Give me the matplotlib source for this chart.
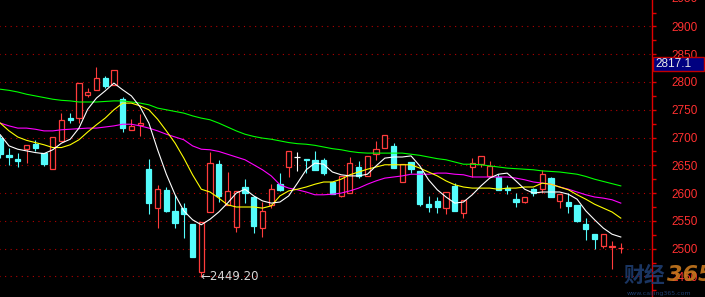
import matplotlib
matplotlib.use("Agg")
import matplotlib.pyplot as plt
from matplotlib.patches import Rectangle
import numpy as np

# daily candles
opens = [2699, 2669, 2661, 2679, 2688, 2672, 2643, 2694, 2735, 2735,
         2777, 2786, 2807, 2795, 2769, 2714, 2723, 2643, 2573, 2606,
         2568, 2573, 2544, 2458, 2566, 2652, 2579, 2539, 2611, 2593,
         2537, 2579, 2616, 2647, 2665, 2661, 2660, 2660, 2620, 2595,
         2600, 2647, 2631, 2670, 2681, 2685, 2620, 2656, 2640, 2580,
         2586, 2573, 2613, 2564, 2647, 2652, 2631, 2629, 2609, 2589,
         2584, 2607, 2607, 2627, 2586, 2584, 2579, 2544, 2526, 2505,
         2503, 2501]
highs = [2705, 2681, 2672, 2687, 2696, 2672, 2701, 2744, 2744, 2798,
         2789, 2827, 2811, 2822, 2773, 2733, 2742, 2661, 2615, 2611,
         2597, 2582, 2544, 2548, 2674, 2660, 2638, 2604, 2625, 2595,
         2584, 2616, 2636, 2676, 2674, 2661, 2676, 2663, 2620, 2631,
         2665, 2658, 2667, 2694, 2705, 2690, 2652, 2656, 2640, 2595,
         2593, 2602, 2618, 2588, 2663, 2667, 2658, 2634, 2615, 2600,
         2593, 2609, 2642, 2629, 2598, 2600, 2579, 2555, 2526, 2526,
         2513, 2511]
lows = [2663, 2651, 2647, 2654, 2676, 2649, 2643, 2694, 2726, 2726,
        2773, 2786, 2789, 2795, 2710, 2714, 2703, 2562, 2537, 2566,
        2537, 2519, 2485, 2449.2, 2566, 2584, 2579, 2530, 2582, 2528,
        2521, 2573, 2604, 2629, 2640, 2636, 2642, 2633, 2598, 2593,
        2600, 2627, 2631, 2660, 2681, 2645, 2620, 2636, 2577, 2566,
        2564, 2562, 2568, 2555, 2629, 2647, 2631, 2606, 2598, 2575,
        2582, 2595, 2600, 2593, 2573, 2564, 2548, 2516, 2499, 2501,
        2464, 2493]
closes = [2670, 2665, 2658, 2687, 2681, 2652, 2701, 2732, 2732, 2798,
          2782, 2807, 2793, 2822, 2717, 2721, 2726, 2582, 2607, 2568,
          2546, 2562, 2485, 2548, 2654, 2595, 2604, 2604, 2600, 2541,
          2568, 2607, 2606, 2676, 2665, 2660, 2642, 2636, 2598, 2631,
          2654, 2631, 2667, 2679, 2705, 2645, 2652, 2643, 2580, 2575,
          2575, 2602, 2568, 2588, 2654, 2667, 2649, 2606, 2606, 2584,
          2593, 2600, 2634, 2593, 2598, 2577, 2550, 2535, 2517, 2526,
          2504, 2502]

# moving averages as drawn
ma5 = [2705, 2685, 2679, 2676, 2673, 2671, 2678, 2690, 2697, 2717,
       2751, 2771, 2784, 2798, 2786, 2775, 2755, 2726, 2678, 2634,
       2597, 2568, 2552, 2543, 2553, 2566, 2582, 2600, 2607, 2595,
       2586, 2582, 2584, 2595, 2618, 2642, 2654, 2652, 2638, 2633,
       2631, 2631, 2634, 2649, 2663, 2665, 2665, 2667, 2649, 2624,
       2606, 2593, 2582, 2584, 2597, 2613, 2627, 2634, 2636, 2622,
       2607, 2600, 2602, 2602, 2602, 2598, 2589, 2568, 2552, 2537,
       2526, 2521]
ma10 = [2726, 2712, 2701, 2695, 2691, 2687, 2682, 2682, 2687, 2696,
        2710, 2723, 2735, 2750, 2762, 2762, 2757, 2750, 2733, 2712,
        2690, 2663, 2633, 2607, 2602, 2591, 2579, 2575, 2575, 2575,
        2573, 2577, 2595, 2604, 2607, 2611, 2616, 2620, 2620, 2625,
        2633, 2638, 2643, 2647, 2651, 2651, 2651, 2651, 2645, 2638,
        2631, 2622, 2615, 2611, 2609, 2609, 2609, 2607, 2609, 2609,
        2611, 2611, 2618, 2616, 2611, 2606, 2597, 2589, 2580, 2573,
        2566, 2555]
ma20 = [2726, 2721, 2717, 2717, 2715, 2712, 2712, 2714, 2715, 2716,
        2717, 2717, 2719, 2721, 2724, 2724, 2721, 2717, 2712, 2706,
        2701, 2696, 2685, 2679, 2678, 2675, 2670, 2665, 2660, 2651,
        2642, 2631, 2615, 2609, 2606, 2602, 2597, 2597, 2598, 2600,
        2604, 2609, 2616, 2622, 2627, 2629, 2631, 2634, 2634, 2634,
        2636, 2636, 2634, 2633, 2629, 2629, 2629, 2629, 2629, 2627,
        2624, 2620, 2618, 2616, 2611, 2607, 2602, 2597, 2593, 2591,
        2588, 2582]
ma60 = [2787, 2785, 2782, 2778, 2775, 2772, 2769, 2767, 2766, 2764,
        2764, 2764, 2765, 2766, 2766, 2764, 2762, 2759, 2753, 2750,
        2747, 2744, 2739, 2735, 2732, 2726, 2719, 2712, 2706, 2702,
        2699, 2697, 2694, 2691, 2689, 2688, 2686, 2683, 2680, 2678,
        2675, 2673, 2672, 2672, 2672, 2672, 2672, 2670, 2668, 2665,
        2662, 2660, 2656, 2652, 2652, 2651, 2649, 2647, 2645, 2644,
        2643, 2642, 2640, 2639, 2638, 2636, 2634, 2630, 2625, 2621,
        2617, 2613]

price_labels = [2450, 2500, 2550, 2600, 2650, 2700, 2750, 2800, 2850, 2900]
top_label = 2950
last_price = "2817.1"
low_mark = "2449.20"

UP = "#ff3c3c"
DOWN = "#54fcfc"
AXIS = "#e00000"

fig = plt.figure(figsize=(7.05, 2.97), dpi=100, facecolor="black")
ax = fig.add_axes([0, 0, 652 / 705, 1])
ax.set_facecolor("black")

x = np.arange(len(opens))
o = np.array(opens, float)
c = np.array(closes, float)
h = np.array(highs, float)
l = np.array(lows, float)

cols = np.where(c > o, UP, np.where(c < o, DOWN, "white"))

# dotted grid
ax.hlines(price_labels, -1, 80, colors="#b40000", linestyles=(0, (1, 4)), lw=0.8, zorder=0)

# wicks then bodies
ax.vlines(x, l, h, colors=cols, lw=0.8, zorder=2)
up = c > o
dn = c < o
flat = c == o
ax.bar(x[up], (c - o)[up], bottom=o[up], width=0.6, facecolor="black",
       edgecolor=UP, lw=0.9, zorder=3)
ax.bar(x[dn], (o - c)[dn], bottom=c[dn], width=0.6, facecolor=DOWN,
       edgecolor=DOWN, lw=0.9, zorder=3)
ax.hlines(o[flat], x[flat] - 0.35, x[flat] + 0.35, colors="white", lw=0.9, zorder=3)

# moving averages
ax.plot(x, ma60, color="#00ff00", lw=0.8, zorder=4)
ax.plot(x, ma20, color="#ff00ff", lw=0.8, zorder=4)
ax.plot(x, ma10, color="#ffff00", lw=0.8, zorder=4)
ax.plot(x, ma5, color="white", lw=0.8, zorder=4)

# lowest point note
i_low = int(np.argmin(l))
ax.text(i_low - 0.05, l[i_low], "\u2190" + low_mark, color="#d8d8d8", fontsize=8.5,
        family="DejaVu Sans", va="center", ha="left", zorder=5)

ax.set_xlim(-0.034, 74.57)
ax.set_ylim(2413, 2947.6)

for s in ["top", "left", "bottom"]:
    ax.spines[s].set_visible(False)
ax.spines["right"].set_color(AXIS)
ax.spines["right"].set_linewidth(1)
ax.set_xticks([])
ax.yaxis.tick_right()
ax.set_yticks(price_labels)
ax.set_yticks(np.arange(2425, 2950, 25), minor=True)
ax.set_yticklabels([str(p) for p in price_labels])
ax.tick_params(axis="y", which="both", colors=AXIS, length=3, width=1, direction="out")
ax.tick_params(axis="y", which="major", labelcolor="#ff3030", labelsize=8.5, pad=11)
for t in ax.get_yticklabels():
    t.set_family("Liberation Sans")
# label above the top of the scale, half cut by the edge
ax.text(671 / 652, top_label, str(top_label), transform=ax.get_yaxis_transform(),
        color="#ff3030", fontsize=8.5, family="Liberation Sans",
        va="center", ha="left", clip_on=False)

# last price box on the axis
fig.patches.append(Rectangle((653 / 705, 226 / 297), 51 / 705, 14 / 297,
                             transform=fig.transFigure, facecolor="#000080",
                             edgecolor="#c00000", lw=1, zorder=10))
fig.text(655 / 705, 233 / 297, last_price, color="#e8e8e8", fontsize=8.5,
         family="Liberation Sans", va="center", ha="left", zorder=11)

# watermark
fig.text(624 / 705, 22 / 297, "财经", color="#1e3c6e", fontsize=15,
         fontweight="bold", family=["Noto Sans CJK SC", "DejaVu Sans"],
         va="center", ha="left", alpha=0.9)
fig.text(667 / 705, 22 / 297, "365", color="#c8781e", fontsize=16,
         fontweight="bold", style="italic", family="DejaVu Sans",
         va="center", ha="left", alpha=0.9)
fig.text(627 / 705, 4 / 297, "www.caijing365.com", color="#1e3c6e", fontsize=4.5,
         family="DejaVu Sans", va="center", ha="left")

fig.savefig("out.png", dpi=100, facecolor="black")
